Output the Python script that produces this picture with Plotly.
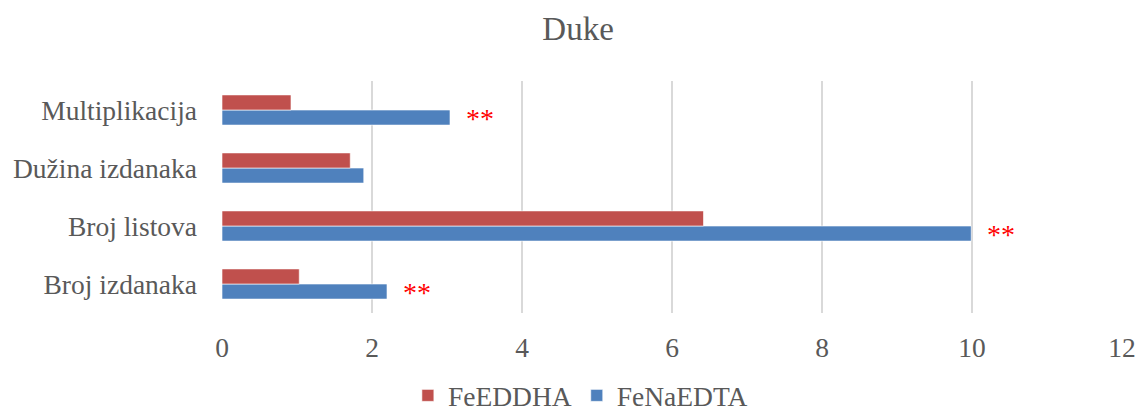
import plotly.graph_objects as go

categories = ["Broj izdanaka", "Broj listova", "Dužina izdanaka", "Multiplikacija"]
fe_eddha = [1.03, 6.42, 1.71, 0.92]
fe_naedta = [2.20, 9.99, 1.89, 3.04]
significance = ["**", "**", "", "**"]
x_ticks = [0, 2, 4, 6, 8, 10, 12]

FONT = "Liberation Serif, Times New Roman, serif"
GREY = "#595959"

fig = go.Figure()
fig.add_trace(go.Bar(
    y=categories, x=fe_naedta, name="FeNaEDTA", orientation="h",
    marker=dict(color="#4F81BD", line=dict(color="rgba(255,255,255,0.6)", width=1)),
    legendrank=2,
))
fig.add_trace(go.Bar(
    y=categories, x=fe_eddha, name="FeEDDHA", orientation="h",
    marker=dict(color="#C0504D", line=dict(color="rgba(255,255,255,0.6)", width=1)),
    legendrank=1,
))

for cat, val, sig in zip(categories, fe_naedta, significance):
    if sig:
        fig.add_annotation(
            x=val, y=cat, text=sig, showarrow=False,
            xanchor="left", yanchor="middle", xshift=14, yshift=-8,
            font=dict(family=FONT, size=28, color="#FF0000"),
        )

fig.update_layout(
    width=1138, height=412,
    margin=dict(l=222, r=16, t=81, b=99, autoexpand=False),
    paper_bgcolor="white", plot_bgcolor="white",
    barmode="group", bargap=0.48, bargroupgap=0,
    font=dict(family=FONT, size=27.5, color=GREY),
    title=dict(text="Duke", x=0.508, xanchor="center", xref="container",
               y=1 - 28 / 412, yanchor="middle", yref="container",
               font=dict(family=FONT, size=33, color=GREY)),
    showlegend=True,
    legend=dict(orientation="h", x=0.51, xanchor="center", xref="container",
                y=(313.5 - 396) / 232, yanchor="middle", yref="paper",
                font=dict(family=FONT, size=27.5, color=GREY),
                itemwidth=30, tracegroupgap=0),
    xaxis=dict(range=[0, 12], tickvals=x_ticks, showgrid=True,
               gridcolor="#D9D9D9", gridwidth=1.5, zeroline=False,
               showline=False, ticks="", ticklabelstandoff=15, automargin=False,
               tickfont=dict(family=FONT, size=27.5, color=GREY)),
    yaxis=dict(showgrid=False, zeroline=False, showline=False, ticks="",
               ticklabelstandoff=24, automargin=False,
               tickfont=dict(family=FONT, size=27.5, color=GREY)),
)

fig.write_html("out.html", config={"displayModeBar": False},
               post_script="document.body.style.margin='0';")
